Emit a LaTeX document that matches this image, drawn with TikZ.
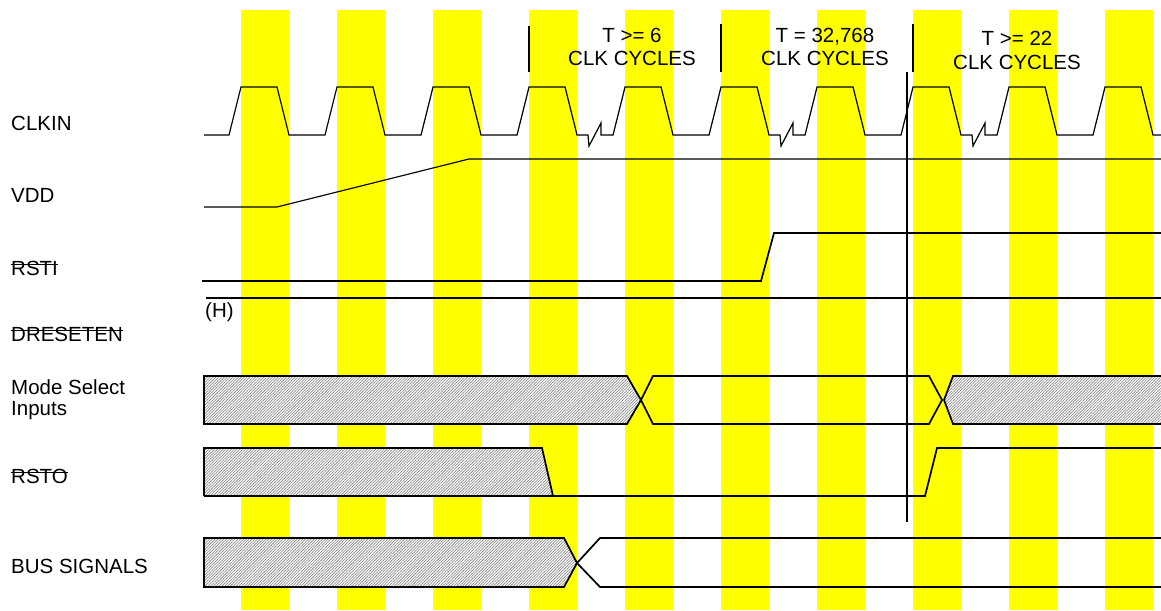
\documentclass[tikz,border=0pt]{standalone}
\usepackage{fontspec}
\setmainfont{Liberation Sans}
\usetikzlibrary{patterns.meta}
\definecolor{stripe}{RGB}{255,255,0}
\tikzset{
  lbl/.style={anchor=base west,inner sep=0pt,font=\fontsize{20.5}{24}\selectfont},
  toplbl/.style={anchor=base,inner sep=0pt,font=\fontsize{20.5}{24}\selectfont},
  sig/.style={line width=1.7pt,line join=miter},
  clk/.style={line width=1.2pt,line join=miter},
  hatch/.style={pattern={Lines[angle=45,distance=2pt,line width=0.75pt]},pattern color=gray!85},
  bar/.style={line width=1.2pt},
  mark line/.style={line width=1.8pt}
}
\begin{document}
\begin{tikzpicture}[x=1pt,y=-1pt]
\useasboundingbox (0,0) rectangle (1161,610);
% yellow stripes
\foreach \s in {241,337,433,529,625,721,817,913,1009,1105}
  \fill[stripe] (\s,10) rectangle (\s+48,610);
% labels
\node[lbl] (clkin) at (11,130) {CLKIN};
\node[lbl] (vdd) at (11,202) {VDD};
\node[lbl] (rsti) at (11,275) {RSTI};
\node[lbl] (dreseten) at (11,341) {DRESETEN};
\node[lbl] (mode1) at (11,394) {Mode Select};
\node[lbl] (mode2) at (11,415) {Inputs};
\node[lbl] (rsto) at (11,483) {RSTO};
\node[lbl] (bus) at (11,573) {BUS SIGNALS};
\node[lbl] (h) at (205,317) {(H)};
\foreach \n in {rsti,dreseten,rsto}
  \draw[bar] ([yshift=10.5pt]\n.base west) -- ([yshift=10.5pt]\n.base east);
% top labels
\node[toplbl] (t1a) at (632,42) {T >= 6};
\node[toplbl] (t1b) at (632,66) {CLK CYCLES};
\node[toplbl] (t2a) at (825,42) {T = 32,768};
\node[toplbl] (t2b) at (825,66) {CLK CYCLES};
\node[toplbl] (t3a) at (1017,46) {T >= 22};
\node[toplbl] (t3b) at (1017,70) {CLK CYCLES};
\draw[mark line] (529,26) -- (529,72);
\draw[mark line] (721,24) -- (721,72);
\draw[mark line] (913,24) -- (913,72);
\draw[mark line] (907,72) -- (907,522);
% CLKIN
\draw[clk] (204,135) -- (229,135) -- (241,87) -- (277,87) -- (289,135)
 -- (325,135) -- (337,87) -- (373,87) -- (385,135)
 -- (421,135) -- (433,87) -- (469,87) -- (481,135)
 -- (517,135) -- (529,87) -- (565,87) -- (577,135)
 -- (588,135) -- (589,146) -- (601,123) -- (601,135)
 -- (613,135) -- (625,87) -- (661,87) -- (673,135)
 -- (709,135) -- (721,87) -- (757,87) -- (769,135)
 -- (780,135) -- (781,146) -- (793,123) -- (793,135)
 -- (805,135) -- (817,87) -- (853,87) -- (865,135)
 -- (901,135) -- (913,87) -- (949,87) -- (961,135)
 -- (972,135) -- (973,146) -- (985,123) -- (985,135)
 -- (997,135) -- (1009,87) -- (1045,87) -- (1057,135)
 -- (1093,135) -- (1105,87) -- (1141,87) -- (1153,135) -- (1161,135);
% VDD
\draw[clk] (204,207) -- (277,207) -- (469,159) -- (1161,159);
% RSTI
\draw[sig] (202,281) -- (761,281) -- (774,233) -- (1161,233);
% DRESETEN
\draw[sig] (206,298) -- (1161,298);
% Mode select inputs
\fill[white] (204,376) -- (627,376) -- (641,400) -- (627,424) -- (204,424) -- cycle;
\fill[hatch] (204,376) -- (627,376) -- (641,400) -- (627,424) -- (204,424) -- cycle;
\draw[sig] (204,376) -- (627,376) -- (641,400) -- (627,424) -- (204,424) -- cycle;
\draw[sig] (641,400) -- (653,376) -- (929,376) -- (942,400) -- (929,424) -- (653,424) -- cycle;
\fill[white] (1161,376) -- (953,376) -- (944,400) -- (953,424) -- (1161,424) -- cycle;
\fill[hatch] (1161,376) -- (953,376) -- (944,400) -- (953,424) -- (1161,424) -- cycle;
\draw[sig] (1161,376) -- (953,376) -- (944,400) -- (953,424) -- (1161,424);
% RSTO
\fill[white] (204,448) -- (542,448) -- (553,496) -- (204,496) -- cycle;
\fill[hatch] (204,448) -- (542,448) -- (553,496) -- (204,496) -- cycle;
\draw[sig] (204,496) -- (204,448) -- (542,448) -- (553,496) -- (204,496);
\draw[sig] (553,496) -- (925,496) -- (937,448) -- (1161,448);
% BUS SIGNALS
\fill[white] (204,538) -- (564,538) -- (577,563) -- (564,587) -- (204,587) -- cycle;
\fill[hatch] (204,538) -- (564,538) -- (577,563) -- (564,587) -- (204,587) -- cycle;
\draw[sig] (204,538) -- (564,538) -- (577,563) -- (564,587) -- (204,587) -- cycle;
\draw[sig] (1161,538) -- (600,538) -- (577,563) -- (600,587) -- (1161,587);
\end{tikzpicture}
\end{document}
